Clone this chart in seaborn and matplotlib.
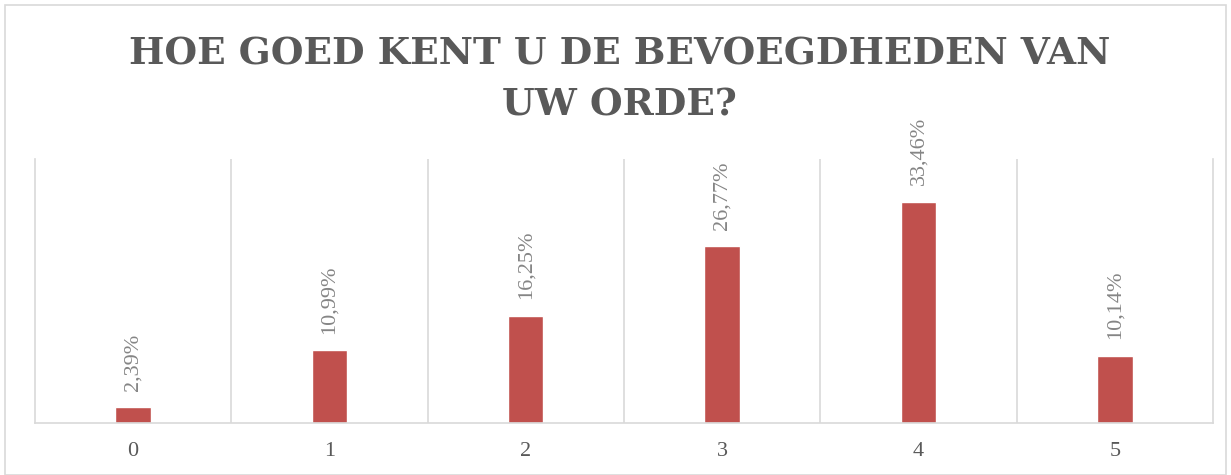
import matplotlib
matplotlib.use("Agg")
import matplotlib.pyplot as plt
import seaborn as sns
from matplotlib.patches import Rectangle

categories = ["0", "1", "2", "3", "4", "5"]
values = [2.39, 10.99, 16.25, 26.77, 33.46, 10.14]
labels = ["2,39%", "10,99%", "16,25%", "26,77%", "33,46%", "10,14%"]
title = "HOE GOED KENT U DE BEVOEGDHEDEN VAN\nUW ORDE?"

sns.set_theme(style="white")
plt.rcParams["font.family"] = ["Liberation Serif", "DejaVu Serif"]

fig = plt.figure(figsize=(12.31, 4.75), dpi=100)
ax = fig.add_axes([0.0284, 0.1095, 0.957, 0.5558])

sns.barplot(x=categories, y=values, color="#C0504D", width=0.18,
            saturation=1, ax=ax)

ax.bar_label(ax.containers[0], labels=labels, rotation=90, padding=12,
             fontsize=16, color="#858585")

ax.set_xlim(-0.5, 5.5)
ax.set_ylim(0, 40)
ax.set_yticks([])
ax.set_xlabel("")
ax.set_ylabel("")
for b in [0.5, 1.5, 2.5, 3.5, 4.5]:
    ax.axvline(b, color="#D9D9D9", lw=1.2, zorder=0)
for s in ["left", "right", "bottom"]:
    ax.spines[s].set_color("#D9D9D9")
    ax.spines[s].set_linewidth(1.2)
ax.spines["top"].set_visible(False)
ax.tick_params(axis="x", length=0, pad=14, labelsize=16, labelcolor="#595959")

fig.text(0.503, 0.833, title, ha="center", va="center", fontsize=27,
         fontweight="bold", color="#595959", linespacing=1.5,
         family=["DejaVu Serif"])

fig.patches.append(Rectangle((5 / 1231, 0), 1221 / 1231, 470 / 475,
                             transform=fig.transFigure, fill=False,
                             edgecolor="#D9D9D9", lw=1.2))

fig.savefig("out.png", dpi=100)
